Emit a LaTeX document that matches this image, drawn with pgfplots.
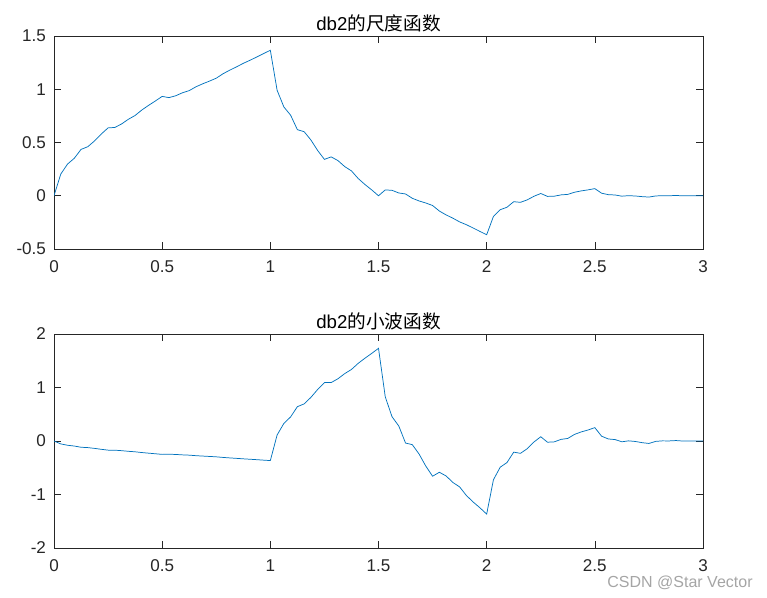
\documentclass[border=0pt]{standalone}
\usepackage{fontspec}
\setmainfont{Liberation Sans}
\newfontfamily\cjk{Noto Sans CJK SC}
\usepackage{pgfplots}
\usepackage{pgfplotstable}
\pgfplotsset{compat=1.18}
\definecolor{mblue}{RGB}{0,114,189}
\definecolor{axgray}{RGB}{38,38,38}
\definecolor{wm}{RGB}{165,165,165}

\pgfplotstableread{
x phi psi
0 0 0
0.03125 0.2031 -0.0544
0.0625 0.2973 -0.0797
0.09375 0.3517 -0.0942
0.125 0.4353 -0.1166
0.15625 0.4605 -0.1234
0.1875 0.5149 -0.1380
0.21875 0.5800 -0.1554
0.25 0.6373 -0.1707
0.28125 0.6412 -0.1718
0.3125 0.6743 -0.1807
0.34375 0.7180 -0.1924
0.375 0.7539 -0.2020
0.40625 0.8055 -0.2158
0.4375 0.8492 -0.2275
0.46875 0.8900 -0.2385
0.5 0.9330 -0.2500
0.53125 0.9213 -0.2468
0.5625 0.9388 -0.2516
0.59375 0.9669 -0.2591
0.625 0.9872 -0.2645
0.65625 1.0232 -0.2742
0.6875 1.0512 -0.2817
0.71875 1.0765 -0.2885
0.75 1.1038 -0.2958
0.78125 1.1454 -0.3069
0.8125 1.1794 -0.3160
0.84375 1.2103 -0.3243
0.875 1.2433 -0.3332
0.90625 1.2723 -0.3410
0.9375 1.3031 -0.3492
0.96875 1.3349 -0.3577
1 1.3660 -0.3660
1.03125 0.9912 0.1113
1.0625 0.8340 0.3285
1.09375 0.7565 0.4502
1.125 0.6205 0.6417
1.15625 0.6015 0.6938
1.1875 0.5238 0.8155
1.21875 0.4248 0.9630
1.25 0.3415 1.0914
1.28125 0.3649 1.0925
1.3125 0.3302 1.1633
1.34375 0.2740 1.2594
1.375 0.2333 1.3371
1.40625 0.1616 1.4521
1.4375 0.1052 1.5482
1.46875 0.0547 1.6377
1.5 0 1.7320
1.53125 0.0548 0.8251
1.5625 0.0510 0.4545
1.59375 0.0261 0.2802
1.625 0.0168 -0.0380
1.65625 -0.0238 -0.0685
1.6875 -0.0487 -0.2430
1.71875 -0.0682 -0.4700
1.75 -0.0915 -0.6585
1.78125 -0.1435 -0.5841
1.8125 -0.1799 -0.6532
1.84375 -0.2106 -0.7748
1.875 -0.2455 -0.8582
1.90625 -0.2720 -1.0185
1.9375 -0.3027 -1.1403
1.96875 -0.3350 -1.2480
2 -0.3660 -1.3660
2.03125 -0.1942 -0.7248
2.0625 -0.1312 -0.4898
2.09375 -0.1081 -0.4035
2.125 -0.0558 -0.2081
2.15625 -0.0618 -0.2306
2.1875 -0.0386 -0.1440
2.21875 -0.0048 -0.0180
2.25 0.0212 0.0793
2.28125 -0.0061 -0.0227
2.3125 -0.0043 -0.0161
2.34375 0.0082 0.0305
2.375 0.0129 0.0479
2.40625 0.0331 0.1237
2.4375 0.0456 0.1703
2.46875 0.0553 0.2062
2.5 0.0670 0.2500
2.53125 0.0240 0.0896
2.5625 0.0102 0.0381
2.59375 0.0071 0.0264
2.625 -0.0039 -0.0145
2.65625 0.0008 0.0029
2.6875 -0.0024 -0.0088
2.71875 -0.0083 -0.0311
2.75 -0.0123 -0.0458
2.78125 -0.0019 -0.0070
2.8125 0.0007 0.0027
2.84375 0.0004 0.0016
2.875 0.0022 0.0084
2.90625 -0.0001 -0.0005
2.9375 -0.0004 -0.0015
2.96875 0.0001 0.0003
3 0 0
}\dbtable

\pgfplotsset{mstyle/.style={
  scale only axis,
  anchor=south west,
  width=486.75pt,
  xmin=0, xmax=3,
  xtick={0,0.5,1,1.5,2,2.5,3},
  xticklabels={0,0.5,1,1.5,2,2.5,3},
  axis line style={axgray, line width=0.5pt},
  tick style={axgray, line width=0.5pt},
  major tick length=4.9pt,
  tick align=inside,
  ticklabel style={font=\fontsize{12.8}{15}\selectfont, text=axgray},
  xticklabel style={yshift=-5.5pt},
  yticklabel style={xshift=-2.5pt},
  /pgf/number format/assume math mode=true,
  title style={font=\fontsize{14}{16}\selectfont, text=black, yshift=-6.5pt},
  clip=true,
}}

\begin{document}
\begin{tikzpicture}
\path[use as bounding box] (0,0) rectangle (575.25pt,447.75pt);
\begin{axis}[mstyle,
  at={(40.5pt,261pt)},
  height=159.75pt,
  ymin=-0.5, ymax=1.5,
  ytick={-0.5,0,0.5,1,1.5},
  yticklabels={-0.5,0,0.5,1,1.5},
  title={db2{\cjk 的尺度函数}},
]
\addplot[mblue, line width=0.55pt, mark=none] table[x=x, y=phi] {\dbtable};
\end{axis}
\begin{axis}[mstyle,
  at={(40.5pt,36.75pt)},
  height=160.5pt,
  ymin=-2, ymax=2,
  ytick={-2,-1,0,1,2},
  yticklabels={-2,-1,0,1,2},
  title={db2{\cjk 的小波函数}},
]
\addplot[mblue, line width=0.55pt, mark=none] table[x=x, y=psi] {\dbtable};
\end{axis}
\node[text=wm, font=\fontsize{12}{14}\selectfont, inner sep=0pt] at (510pt,10.5pt) {CSDN @Star Vector};
\end{tikzpicture}
\end{document}
